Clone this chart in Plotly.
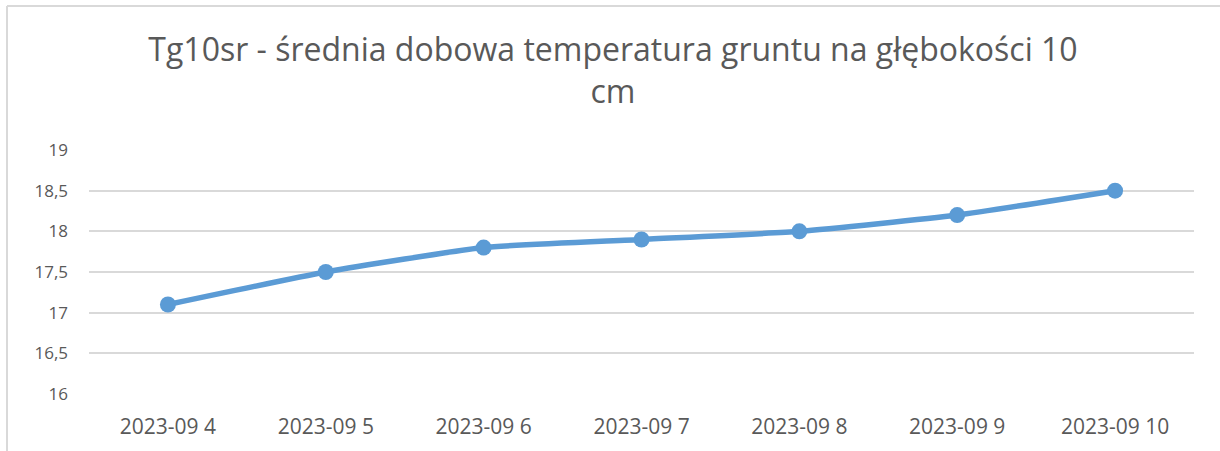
import plotly.graph_objects as go

categories = ["2023-09 4", "2023-09 5", "2023-09 6", "2023-09 7", "2023-09 8", "2023-09 9", "2023-09 10"]
values = [17.1, 17.5, 17.8, 17.9, 18.0, 18.2, 18.5]
y_ticks = [16, 16.5, 17, 17.5, 18, 18.5, 19]
y_tick_labels = ["16", "16,5", "17", "17,5", "18", "18,5", "19"]
title_text = "Tg10sr - średnia dobowa temperatura gruntu na głębokości 10<br>cm"

W, H = 1220, 451
L, R, T, B = 89, 26, 150, 57
pw, ph = W - L - R, H - T - B

def px_to_paper_x(px):
    return (px - L) / pw

def px_to_paper_y(py):
    return (H - B - py) / ph

FONT = "Open Sans, Segoe UI, Calibri, sans-serif"

fig = go.Figure()
fig.add_trace(go.Scatter(
    x=categories, y=values, mode="lines+markers",
    line=dict(color="#5B9BD5", width=5.5, shape="spline", smoothing=0.5),
    marker=dict(color="#5B9BD5", size=16),
    hoverinfo="x+y", showlegend=False,
))

border_color = "#D9D9D9"
fig.update_layout(
    width=W, height=H,
    margin=dict(l=L, r=R, t=T, b=B),
    paper_bgcolor="white", plot_bgcolor="white",
    font=dict(family=FONT, color="#595959"),
    title=dict(text=title_text, x=613 / W, xref="container", xanchor="center",
               y=1 - 61 / H, yanchor="top",
               font=dict(size=32, color="#595959", family=FONT)),
    xaxis=dict(type="category", showgrid=False, zeroline=False, showline=False,
               ticks="", tickfont=dict(size=21, color="#595959"),
               range=[-0.5, len(categories) - 0.5], ticklabelstandoff=18),
    yaxis=dict(range=[16, 19], tickvals=y_ticks, ticktext=y_tick_labels,
               showgrid=True, gridcolor="#D9D9D9", gridwidth=2, zeroline=False,
               showline=False, ticks="", tickfont=dict(size=17, color="#595959"),
               ticklabelstandoff=20),
    shapes=[
        dict(type="line", xref="paper", yref="paper",
             x0=px_to_paper_x(7), x1=px_to_paper_x(1221),
             y0=px_to_paper_y(6), y1=px_to_paper_y(6),
             line=dict(color=border_color, width=2)),
        dict(type="line", xref="paper", yref="paper",
             x0=px_to_paper_x(7), x1=px_to_paper_x(7),
             y0=px_to_paper_y(6), y1=px_to_paper_y(452),
             line=dict(color=border_color, width=2)),
    ],
)

fig.write_html("out.html", config={"displayModeBar": False},
               post_script="document.body.style.margin='0';")
